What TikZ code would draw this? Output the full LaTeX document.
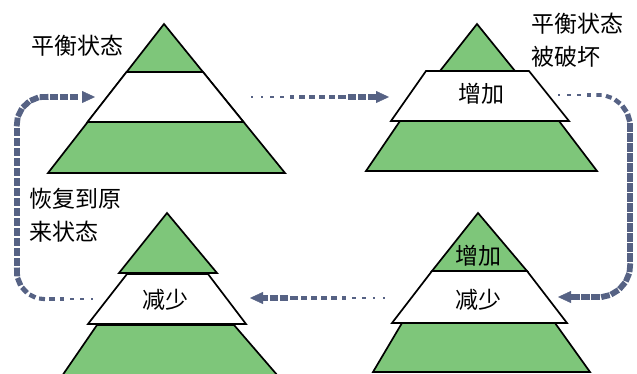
\documentclass[tikz,border=0pt]{standalone}
\usepackage{fontspec}
\newfontfamily\cjk{Noto Sans CJK SC}
\usetikzlibrary{decorations.markings,arrows.meta}
\definecolor{pyrgreen}{RGB}{126,198,122}
\definecolor{arrowcol}{RGB}{86,98,132}
\begin{document}
\begin{tikzpicture}[x=1pt,y=-1pt,
  band/.style={fill=pyrgreen,draw=black,line width=1.7pt,line join=miter},
  wband/.style={fill=white,draw=black,line width=1.7pt,line join=miter},
  lbl/.style={font=\cjk\fontsize{23}{33}\selectfont,inner sep=0pt,align=left},
  flowarrow/.style={postaction={decorate},decoration={markings,
     mark=between positions 0 and -14pt step 10pt with {
       \pgfmathsetmacro\ff{min(1,(\pgfkeysvalueof{/pgf/decoration/mark info/sequence number}-1)*10/#1)}
       \fill[arrowcol,sharp corners] (-1.2-3.2*\ff pt,-1-1.9*\ff pt) rectangle (1.2+3.2*\ff pt,1+1.9*\ff pt);},
     mark=at position 1 with {\arrow[arrowcol,sharp corners]{Triangle[length=13pt,width=12pt]}}}}
]
\useasboundingbox (0,0) rectangle (637,374);
\clip (0,0) rectangle (637,374);
\fill[white] (0,0) rectangle (637,374);

% pyramid 1 (balance)
\filldraw[band] (164,24) -- (285,173) -- (48,173) -- cycle;
\filldraw[wband] (126.5,72) -- (203,72) -- (243.5,122) -- (87.5,122) -- cycle;

% pyramid 2 (disturbed)
\filldraw[band] (477,24) -- (515,71) -- (440,71) -- cycle;
\filldraw[band] (400,121) -- (559,121) -- (597,171) -- (366,171) -- cycle;
\filldraw[wband] (426,71) -- (529,71) -- (569,121) -- (391,121) -- cycle;

% pyramid 3 (restored)
\filldraw[band] (97,325) -- (234,325) -- (278,376) -- (62,376) -- cycle;
\filldraw[wband] (127,274) -- (208,274) -- (246,324) -- (88,324) -- cycle;
\filldraw[band] (167,213) -- (217,273) -- (119,273) -- cycle;

% pyramid 4
\filldraw[band] (402,323) -- (555,323) -- (590,372) -- (373,372) -- cycle;
\filldraw[wband] (432,271) -- (527,271) -- (567,323) -- (392,323) -- cycle;
\filldraw[band] (478,213) -- (527,271) -- (432,271) -- cycle;

% labels
\node[lbl] (t1) at (77,46) {平衡状态};
\node[lbl,anchor=west] (t2) at (531,40.5) {平衡状态\\被破坏};
\node[lbl,anchor=west] (t3) at (29,215) {恢复到原\\来状态};
\node[lbl] (z2) at (481,94) {增加};
\node[lbl] (j3) at (165,300) {减少};
\node[lbl] (z4) at (478,256) {增加};
\node[lbl] (j4) at (478,300) {减少};

% arrows
\coordinate (a1s) at (252,97);
\coordinate (a1e) at (389,97);
\coordinate (a2s) at (559,95);
\coordinate (a2c) at (630,200);
\coordinate (a2e) at (558,297);
\coordinate (a3s) at (384,298);
\coordinate (a3e) at (250,298);
\coordinate (a4s) at (92,299);
\coordinate (a4c) at (17,200);
\coordinate (a4e) at (95,97);

\path[flowarrow=120] (a1s) -- (a1e);
\path[flowarrow=90,rounded corners=32pt] (a2s) -| (a2c) |- (a2e);
\path[flowarrow=120] (a3s) -- (a3e);
\path[flowarrow=90,rounded corners=28pt] (a4s) -| (a4c) |- (a4e);
\end{tikzpicture}
\end{document}
